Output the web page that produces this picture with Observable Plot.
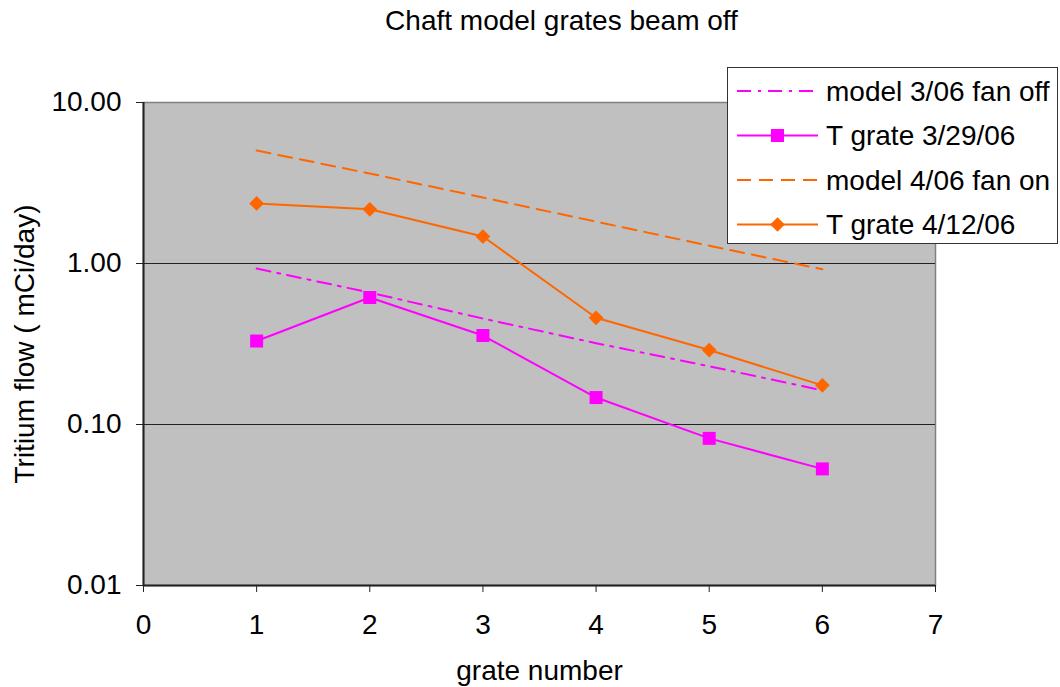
<!DOCTYPE html>
<html>
<head>
<meta charset="utf-8">
<script src="https://cdn.jsdelivr.net/npm/d3@7"></script>
<script src="https://cdn.jsdelivr.net/npm/@observablehq/plot@0.6"></script>
<style>
  html, body { margin: 0; padding: 0; background: #fff; }
  #wrap { position: relative; width: 1060px; height: 687px; font-family: "Liberation Sans", Arial, sans-serif; }
  #legend { position: absolute; left: 727px; top: 67px; width: 329px; height: 175px; background: #fff; border: 1px solid #333; }
</style>
</head>
<body>
<div id="wrap"><div id="chart"></div><div id="legend"></div></div>
<script>
const grates = [1, 2, 3, 4, 5, 6];
const model306 = [0.93, 0.66, 0.455, 0.32, 0.23, 0.163];
const tgrate329 = [0.33, 0.615, 0.357, 0.147, 0.082, 0.053];
const model406 = [5.03, 3.62, 2.57, 1.82, 1.29, 0.92];
const tgrate412 = [2.36, 2.17, 1.47, 0.46, 0.29, 0.175];
const seriesNames = ["model 3/06 fan off", "T grate 3/29/06", "model 4/06 fan on", "T grate 4/12/06"];
const xTicks = [0, 1, 2, 3, 4, 5, 6, 7];
const yTicks = [0.01, 0.1, 1, 10];
const titleText = "Chaft model grates beam off";
const xLabel = "grate number";
const yLabel = "Tritium flow ( mCi/day)";

const FS = 28;
const MAG = "#ff00ff", ORA = "#ff6600";
const styles = [
  {color: MAG, dash: "14,7,3,7", marker: null},
  {color: MAG, dash: null, marker: "square"},
  {color: ORA, dash: "14,8", marker: null},
  {color: ORA, dash: null, marker: "diamond"}
];
const allSeries = [model306, tgrate329, model406, tgrate412];
const rows = [];
allSeries.forEach((vals, si) => vals.forEach((v, i) => rows.push({series: seriesNames[si], x: grates[i], y: v})));

const squareSym = {draw(ctx, size) { const h = Math.sqrt(size / Math.PI); ctx.rect(-h, -h, 2 * h, 2 * h); }};
const diamondSym = {draw(ctx, size) { const h = Math.sqrt(size / Math.PI) * 1.05; ctx.moveTo(0, -h); ctx.lineTo(h, 0); ctx.lineTo(0, h); ctx.lineTo(-h, 0); ctx.closePath(); }};

const lineMarks = styles.map((s, si) => Plot.line(rows.filter(r => r.series === seriesNames[si]), {
  x: "x", y: "y", stroke: s.color, strokeWidth: 2, strokeDasharray: s.dash || undefined
}));
const dotMarks = [
  Plot.dot(rows.filter(r => r.series === seriesNames[1]), {x: "x", y: "y", symbol: squareSym, r: 6.5, fill: MAG}),
  Plot.dot(rows.filter(r => r.series === seriesNames[3]), {x: "x", y: "y", symbol: diamondSym, r: 7, fill: ORA})
];

const plot = Plot.plot({
  width: 1060, height: 687,
  marginLeft: 143, marginRight: 125, marginTop: 102, marginBottom: 102,
  style: {fontFamily: "Liberation Sans, Arial, sans-serif", fontSize: FS + "px", color: "#000", background: "#fff"},
  x: {domain: [0, 7]},
  y: {type: "log", domain: [0.01, 10]},
  marks: [
    Plot.frame({fill: "#c0c0c0", stroke: "#808080", strokeWidth: 1.5}),
    Plot.ruleY([0.1, 1], {stroke: "#222", strokeWidth: 1.2}),
    Plot.ruleY([0.01], {stroke: "#222", strokeWidth: 2}),
    Plot.ruleX([0], {stroke: "#222", strokeWidth: 2}),
    Plot.axisY({ticks: yTicks, tickFormat: d => d.toFixed(2), tickSize: 7, tickPadding: 15, label: null, fontSize: FS, stroke: "#222"}),
    Plot.axisX({ticks: xTicks, tickFormat: d => String(d), tickSize: 7, tickPadding: 22, label: null, fontSize: FS, stroke: "#222"}),
    ...lineMarks,
    ...dotMarks,
    Plot.text([titleText], {frameAnchor: "top", lineAnchor: "middle", textAnchor: "middle", dx: 22, dy: -81, fontSize: FS, fill: "#000"}),
    Plot.text([xLabel], {frameAnchor: "bottom", lineAnchor: "middle", textAnchor: "middle", dy: 86, fontSize: FS, fill: "#000"}),
    Plot.text([yLabel], {frameAnchor: "left", lineAnchor: "middle", textAnchor: "middle", dx: -118, rotate: -90, fontSize: FS, fill: "#000"})
  ]
});
document.getElementById("chart").appendChild(plot);

// legend
const lg = document.getElementById("legend");
const ns = "http://www.w3.org/2000/svg";
const svg = document.createElementNS(ns, "svg");
svg.setAttribute("width", 329); svg.setAttribute("height", 175);
svg.style.fontFamily = "Liberation Sans, Arial, sans-serif";
styles.forEach((s, i) => {
  const cy = 23 + i * 44.5;
  const ln = document.createElementNS(ns, "line");
  ln.setAttribute("x1", 9); ln.setAttribute("x2", 90); ln.setAttribute("y1", cy); ln.setAttribute("y2", cy);
  ln.setAttribute("stroke", s.color); ln.setAttribute("stroke-width", 2);
  if (s.dash) ln.setAttribute("stroke-dasharray", s.dash);
  svg.appendChild(ln);
  if (s.marker === "square") {
    const r = document.createElementNS(ns, "rect");
    r.setAttribute("x", 49.5 - 6.5); r.setAttribute("y", cy - 6.5); r.setAttribute("width", 13); r.setAttribute("height", 13);
    r.setAttribute("fill", s.color); svg.appendChild(r);
  } else if (s.marker === "diamond") {
    const p = document.createElementNS(ns, "path");
    const h = 7.3, cx = 49.5;
    p.setAttribute("d", `M${cx},${cy - h}L${cx + h},${cy}L${cx},${cy + h}L${cx - h},${cy}Z`);
    p.setAttribute("fill", s.color); svg.appendChild(p);
  }
  const t = document.createElementNS(ns, "text");
  t.setAttribute("x", 98); t.setAttribute("y", cy); t.setAttribute("dy", "0.35em");
  t.setAttribute("font-size", FS); t.textContent = seriesNames[i];
  svg.appendChild(t);
});
lg.appendChild(svg);
</script>
</body>
</html>
